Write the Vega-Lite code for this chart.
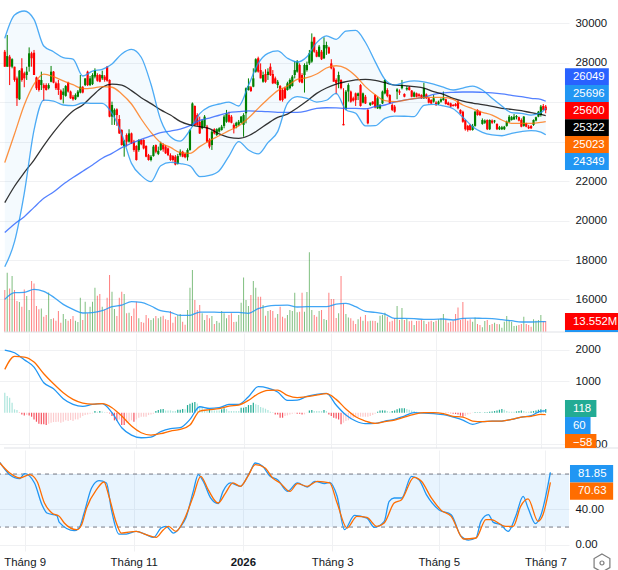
{"$schema":"https://vega.github.io/schema/vega-lite/v6.json","background":"#ffffff","padding":{"left":-3,"top":0,"right":0,"bottom":0},"spacing":-1.5,"config":{"font":"Liberation Sans","view":{"stroke":null},"axis":{"labelFontSize":11.4,"labelColor":"#131722","gridColor":"#f0f1f3","gridWidth":1,"title":null,"ticks":false,"domain":false}},
"datasets":{
"candles":[
{"i":0,"open":28560,"high":28650,"low":27800,"close":27800,"vol":51.7,"hist":635,"tone":"b"},
{"i":1,"open":27800,"high":29410,"low":27800,"close":28340,"vol":73,"hist":529,"tone":"b"},
{"i":2,"open":28310,"high":28400,"low":26870,"close":27800,"vol":53.7,"hist":476,"tone":"b"},
{"i":3,"open":27800,"high":28230,"low":27720,"close":28180,"vol":68.9,"hist":317,"tone":"b"},
{"i":4,"open":27800,"high":27800,"low":27040,"close":27130,"vol":51.7,"hist":106,"tone":"b"},
{"i":5,"open":27210,"high":27300,"low":25810,"close":26200,"vol":38.1,"hist":85,"tone":"b"},
{"i":6,"open":26150,"high":27630,"low":26110,"close":27600,"vol":36.9,"hist":-11,"tone":"c"},
{"i":7,"open":27720,"high":28230,"low":27040,"close":27130,"vol":31.2,"hist":-53,"tone":"c"},
{"i":8,"open":27470,"high":27550,"low":26760,"close":27210,"vol":52.5,"hist":-85,"tone":"c"},
{"i":9,"open":27380,"high":27800,"low":27130,"close":27550,"vol":44.3,"hist":-74,"tone":"d"},
{"i":10,"open":27800,"high":28780,"low":27550,"close":28480,"vol":27.1,"hist":-85,"tone":"c"},
{"i":11,"open":28480,"high":28560,"low":27800,"close":28230,"vol":62.7,"hist":-127,"tone":"c"},
{"i":12,"open":28510,"high":28650,"low":27380,"close":27380,"vol":59.9,"hist":-212,"tone":"c"},
{"i":13,"open":27260,"high":27300,"low":26620,"close":26710,"vol":32,"hist":-286,"tone":"c"},
{"i":14,"open":27130,"high":27160,"low":26540,"close":26620,"vol":27.9,"hist":-349,"tone":"c"},
{"i":15,"open":26870,"high":27550,"low":26620,"close":27130,"vol":29.1,"hist":-370,"tone":"c"},
{"i":16,"open":26870,"high":26960,"low":26060,"close":26710,"vol":18.9,"hist":-370,"tone":"c"},
{"i":17,"open":26870,"high":26960,"low":26590,"close":26620,"vol":20.9,"hist":-391,"tone":"c"},
{"i":18,"open":26710,"high":26960,"low":26650,"close":26870,"vol":48.8,"hist":-349,"tone":"d"},
{"i":19,"open":27040,"high":27840,"low":27010,"close":27550,"vol":16,"hist":-317,"tone":"d"},
{"i":20,"open":27550,"high":27580,"low":26960,"close":26990,"vol":16.8,"hist":-296,"tone":"d"},
{"i":21,"open":26960,"high":27040,"low":26620,"close":26710,"vol":13.9,"hist":-296,"tone":"d"},
{"i":22,"open":26960,"high":27130,"low":26370,"close":26620,"vol":25.8,"hist":-286,"tone":"d"},
{"i":23,"open":26590,"high":26650,"low":26110,"close":26150,"vol":11.5,"hist":-317,"tone":"d"},
{"i":24,"open":26370,"high":26710,"low":25940,"close":26540,"vol":22.1,"hist":-286,"tone":"d"},
{"i":25,"open":26320,"high":26870,"low":26280,"close":26820,"vol":16,"hist":-243,"tone":"d"},
{"i":26,"open":26990,"high":27040,"low":26490,"close":26540,"vol":13.9,"hist":-265,"tone":"d"},
{"i":27,"open":26540,"high":26590,"low":26170,"close":26200,"vol":16,"hist":-233,"tone":"d"},
{"i":28,"open":26280,"high":26370,"low":26080,"close":26150,"vol":19.7,"hist":-265,"tone":"d"},
{"i":29,"open":26150,"high":26450,"low":26110,"close":26370,"vol":13.9,"hist":-212,"tone":"d"},
{"i":30,"open":26280,"high":26620,"low":26250,"close":26540,"vol":12.3,"hist":-212,"tone":"d"},
{"i":31,"open":26490,"high":27380,"low":26450,"close":26790,"vol":42.2,"hist":-159,"tone":"d"},
{"i":32,"open":26760,"high":26820,"low":26450,"close":26490,"vol":14.8,"hist":-106,"tone":"d"},
{"i":33,"open":26870,"high":27210,"low":26820,"close":27210,"vol":37.3,"hist":-74,"tone":"d"},
{"i":34,"open":27550,"high":27600,"low":26820,"close":26870,"vol":23,"hist":-53,"tone":"d"},
{"i":35,"open":26870,"high":27330,"low":26820,"close":27210,"vol":31.2,"hist":-32,"tone":"d"},
{"i":36,"open":26920,"high":27470,"low":26870,"close":27380,"vol":37.3,"hist":-21,"tone":"d"},
{"i":37,"open":27300,"high":27720,"low":27210,"close":27630,"vol":54.5,"hist":53,"tone":"a"},
{"i":38,"open":27380,"high":27470,"low":27040,"close":27090,"vol":44.7,"hist":32,"tone":"b"},
{"i":39,"open":27380,"high":27430,"low":27010,"close":27040,"vol":46.7,"hist":53,"tone":"a"},
{"i":40,"open":27210,"high":27600,"low":27130,"close":27380,"vol":31.2,"hist":42,"tone":"b"},
{"i":41,"open":27300,"high":27380,"low":27040,"close":27130,"vol":27.9,"hist":11,"tone":"b"},
{"i":42,"open":27800,"high":27840,"low":27040,"close":27090,"vol":42.2,"hist":-11,"tone":"c"},
{"i":43,"open":27130,"high":27160,"low":25240,"close":25270,"vol":70.1,"hist":-21,"tone":"c"},
{"i":44,"open":25270,"high":26030,"low":24850,"close":25860,"vol":49.6,"hist":-106,"tone":"c"},
{"i":45,"open":25350,"high":25690,"low":24850,"close":25610,"vol":28.3,"hist":-243,"tone":"c"},
{"i":46,"open":25640,"high":25690,"low":24800,"close":25350,"vol":19.7,"hist":-265,"tone":"c"},
{"i":47,"open":25150,"high":25350,"low":24390,"close":24420,"vol":42.2,"hist":-212,"tone":"d"},
{"i":48,"open":24590,"high":24630,"low":23800,"close":23830,"vol":49.6,"hist":-391,"tone":"c"},
{"i":49,"open":23780,"high":24090,"low":23240,"close":24050,"vol":46.7,"hist":-391,"tone":"c"},
{"i":50,"open":24340,"high":24420,"low":23750,"close":24000,"vol":23,"hist":-317,"tone":"d"},
{"i":51,"open":24000,"high":24630,"low":23950,"close":24420,"vol":23.8,"hist":-286,"tone":"d"},
{"i":52,"open":24420,"high":24460,"low":23880,"close":23920,"vol":19.7,"hist":-243,"tone":"d"},
{"i":53,"open":24000,"high":24090,"low":23490,"close":23580,"vol":29.1,"hist":-286,"tone":"c"},
{"i":54,"open":23780,"high":23820,"low":23040,"close":23070,"vol":37.3,"hist":-212,"tone":"d"},
{"i":55,"open":23580,"high":24120,"low":23490,"close":24090,"vol":16.8,"hist":-159,"tone":"d"},
{"i":56,"open":24090,"high":24120,"low":23820,"close":23870,"vol":12.3,"hist":-127,"tone":"d"},
{"i":57,"open":24090,"high":24120,"low":23610,"close":23660,"vol":11.5,"hist":-127,"tone":"d"},
{"i":58,"open":23780,"high":23820,"low":23210,"close":23240,"vol":20.9,"hist":-127,"tone":"d"},
{"i":59,"open":23320,"high":23380,"low":23040,"close":23070,"vol":16.8,"hist":-74,"tone":"d"},
{"i":60,"open":23070,"high":23320,"low":23000,"close":23240,"vol":14.8,"hist":-53,"tone":"d"},
{"i":61,"open":23270,"high":23830,"low":23240,"close":23750,"vol":16.8,"hist":-32,"tone":"d"},
{"i":62,"open":23830,"high":23860,"low":23410,"close":23490,"vol":19.7,"hist":53,"tone":"a"},
{"i":63,"open":23380,"high":23750,"low":23320,"close":23540,"vol":16.8,"hist":85,"tone":"a"},
{"i":64,"open":23580,"high":24000,"low":23540,"close":23920,"vol":18.9,"hist":106,"tone":"a"},
{"i":65,"open":23830,"high":23920,"low":23490,"close":23610,"vol":20.1,"hist":116,"tone":"a"},
{"i":66,"open":23750,"high":23830,"low":23380,"close":23410,"vol":15.6,"hist":74,"tone":"b"},
{"i":67,"open":23660,"high":23710,"low":23270,"close":23320,"vol":14.8,"hist":74,"tone":"b"},
{"i":68,"open":23320,"high":23410,"low":23030,"close":23070,"vol":25.8,"hist":74,"tone":"b"},
{"i":69,"open":23270,"high":23320,"low":22990,"close":23070,"vol":11.5,"hist":53,"tone":"b"},
{"i":70,"open":23240,"high":23320,"low":22800,"close":22840,"vol":18.9,"hist":53,"tone":"b"},
{"i":71,"open":22870,"high":23380,"low":22840,"close":23270,"vol":20.9,"hist":95,"tone":"a"},
{"i":72,"open":23320,"high":23610,"low":23240,"close":23490,"vol":22.1,"hist":95,"tone":"a"},
{"i":73,"open":23490,"high":23540,"low":23210,"close":23240,"vol":12.7,"hist":116,"tone":"a"},
{"i":74,"open":23380,"high":23440,"low":23160,"close":23210,"vol":9,"hist":106,"tone":"b"},
{"i":75,"open":23210,"high":23660,"low":23040,"close":23580,"vol":27.1,"hist":243,"tone":"a"},
{"i":76,"open":23580,"high":24630,"low":23540,"close":24590,"vol":54.5,"hist":286,"tone":"a"},
{"i":77,"open":24800,"high":25990,"low":24760,"close":25940,"vol":76.3,"hist":317,"tone":"a"},
{"i":78,"open":25810,"high":25840,"low":24800,"close":24850,"vol":39.4,"hist":339,"tone":"a"},
{"i":79,"open":25350,"high":25440,"low":24800,"close":24850,"vol":27.1,"hist":296,"tone":"b"},
{"i":80,"open":25010,"high":25270,"low":24390,"close":24420,"vol":33.2,"hist":212,"tone":"b"},
{"i":81,"open":24680,"high":25130,"low":24630,"close":25070,"vol":23,"hist":159,"tone":"b"},
{"i":82,"open":24760,"high":25350,"low":24730,"close":25270,"vol":14.8,"hist":95,"tone":"b"},
{"i":83,"open":24760,"high":24850,"low":23950,"close":24000,"vol":20.9,"hist":74,"tone":"b"},
{"i":84,"open":24090,"high":24170,"low":23660,"close":23750,"vol":16.8,"hist":116,"tone":"a"},
{"i":85,"open":23830,"high":24590,"low":23580,"close":24510,"vol":19.7,"hist":74,"tone":"b"},
{"i":86,"open":24630,"high":24680,"low":24370,"close":24420,"vol":9.8,"hist":74,"tone":"b"},
{"i":87,"open":24340,"high":24680,"low":24290,"close":24630,"vol":13.5,"hist":74,"tone":"b"},
{"i":88,"open":24510,"high":24730,"low":24460,"close":24680,"vol":11.5,"hist":74,"tone":"b"},
{"i":89,"open":24590,"high":24850,"low":24560,"close":24760,"vol":25.8,"hist":106,"tone":"a"},
{"i":90,"open":24800,"high":25350,"low":24680,"close":25270,"vol":23,"hist":138,"tone":"a"},
{"i":91,"open":25010,"high":25610,"low":24960,"close":25440,"vol":16.8,"hist":116,"tone":"b"},
{"i":92,"open":25350,"high":25520,"low":24960,"close":25010,"vol":20.9,"hist":53,"tone":"b"},
{"i":93,"open":25270,"high":25350,"low":24930,"close":24960,"vol":23,"hist":53,"tone":"b"},
{"i":94,"open":24850,"high":24930,"low":24420,"close":24680,"vol":12.3,"hist":53,"tone":"b"},
{"i":95,"open":24800,"high":25010,"low":24680,"close":24960,"vol":12.7,"hist":53,"tone":"b"},
{"i":96,"open":24850,"high":25100,"low":24800,"close":25010,"vol":20.9,"hist":53,"tone":"b"},
{"i":97,"open":24960,"high":25300,"low":24930,"close":25270,"vol":36.1,"hist":159,"tone":"a"},
{"i":98,"open":24850,"high":25440,"low":24250,"close":25350,"vol":67.2,"hist":159,"tone":"a"},
{"i":99,"open":25440,"high":26750,"low":24930,"close":26710,"vol":39.4,"hist":180,"tone":"a"},
{"i":100,"open":26620,"high":27210,"low":26590,"close":26820,"vol":32,"hist":243,"tone":"a"},
{"i":101,"open":26760,"high":26820,"low":26520,"close":26570,"vol":45.5,"hist":243,"tone":"a"},
{"i":102,"open":26790,"high":27720,"low":26760,"close":27210,"vol":62.7,"hist":317,"tone":"a"},
{"i":103,"open":27550,"high":28230,"low":27500,"close":28180,"vol":54.5,"hist":265,"tone":"b"},
{"i":104,"open":28230,"high":28310,"low":27500,"close":27550,"vol":43.5,"hist":243,"tone":"b"},
{"i":105,"open":27630,"high":27970,"low":27210,"close":27210,"vol":43.5,"hist":180,"tone":"b"},
{"i":106,"open":27040,"high":27550,"low":26990,"close":27380,"vol":33.2,"hist":159,"tone":"b"},
{"i":107,"open":27430,"high":27670,"low":26990,"close":27040,"vol":20.1,"hist":127,"tone":"b"},
{"i":108,"open":27380,"high":27720,"low":27130,"close":27550,"vol":25.8,"hist":85,"tone":"b"},
{"i":109,"open":27800,"high":27970,"low":27330,"close":27380,"vol":27.1,"hist":32,"tone":"b"},
{"i":110,"open":27430,"high":27630,"low":26920,"close":26960,"vol":25.8,"hist":11,"tone":"b"},
{"i":111,"open":27210,"high":27300,"low":26920,"close":26960,"vol":17.6,"hist":-53,"tone":"c"},
{"i":112,"open":26870,"high":27130,"low":26710,"close":27040,"vol":22.1,"hist":-53,"tone":"c"},
{"i":113,"open":26820,"high":26870,"low":26060,"close":26110,"vol":31.2,"hist":-159,"tone":"c"},
{"i":114,"open":26620,"high":26710,"low":26030,"close":26110,"vol":18.9,"hist":-159,"tone":"c"},
{"i":115,"open":26710,"high":26790,"low":26170,"close":26200,"vol":16.8,"hist":-106,"tone":"d"},
{"i":116,"open":26620,"high":27040,"low":26590,"close":26960,"vol":20.9,"hist":-85,"tone":"d"},
{"i":117,"open":26710,"high":27210,"low":26650,"close":27130,"vol":27.1,"hist":-53,"tone":"d"},
{"i":118,"open":26820,"high":27380,"low":26790,"close":27300,"vol":25.8,"hist":-32,"tone":"d"},
{"i":119,"open":27380,"high":28090,"low":27210,"close":27630,"vol":48.4,"hist":-21,"tone":"d"},
{"i":120,"open":27550,"high":28140,"low":27500,"close":28060,"vol":24.2,"hist":-32,"tone":"c"},
{"i":121,"open":27890,"high":27970,"low":26990,"close":27040,"vol":25,"hist":-32,"tone":"c"},
{"i":122,"open":27380,"high":27470,"low":26960,"close":26990,"vol":48.4,"hist":-53,"tone":"c"},
{"i":123,"open":27380,"high":27970,"low":26490,"close":27890,"vol":25,"hist":-53,"tone":"d"},
{"i":124,"open":27630,"high":28060,"low":27550,"close":27890,"vol":49.2,"hist":-11,"tone":"d"},
{"i":125,"open":27970,"high":28650,"low":27890,"close":28480,"vol":98.4,"hist":74,"tone":"a"},
{"i":126,"open":28060,"high":29490,"low":28000,"close":29070,"vol":27.1,"hist":85,"tone":"a"},
{"i":127,"open":29290,"high":29320,"low":28510,"close":28560,"vol":20.9,"hist":53,"tone":"b"},
{"i":128,"open":28560,"high":28650,"low":28280,"close":28310,"vol":18.9,"hist":53,"tone":"b"},
{"i":129,"open":28310,"high":28900,"low":28280,"close":28820,"vol":25.8,"hist":53,"tone":"b"},
{"i":130,"open":28560,"high":28650,"low":28140,"close":28180,"vol":27.1,"hist":53,"tone":"b"},
{"i":131,"open":28230,"high":29290,"low":28190,"close":28900,"vol":16,"hist":85,"tone":"a"},
{"i":132,"open":28730,"high":29070,"low":28400,"close":28900,"vol":14.8,"hist":53,"tone":"b"},
{"i":133,"open":28780,"high":28820,"low":28450,"close":28480,"vol":48.4,"hist":-53,"tone":"c"},
{"i":134,"open":27970,"high":28180,"low":27670,"close":27720,"vol":40.6,"hist":-106,"tone":"c"},
{"i":135,"open":27720,"high":27800,"low":27040,"close":27040,"vol":40.6,"hist":-159,"tone":"c"},
{"i":136,"open":27130,"high":27210,"low":26400,"close":26960,"vol":17.2,"hist":-180,"tone":"c"},
{"i":137,"open":27040,"high":27550,"low":26710,"close":27380,"vol":23,"hist":-212,"tone":"c"},
{"i":138,"open":27130,"high":27160,"low":26650,"close":26710,"vol":68.9,"hist":-370,"tone":"c"},
{"i":139,"open":24900,"high":26710,"low":24830,"close":24830,"vol":35.3,"hist":-317,"tone":"d"},
{"i":140,"open":25640,"high":26620,"low":25610,"close":26540,"vol":22.1,"hist":-265,"tone":"d"},
{"i":141,"open":26540,"high":26960,"low":26030,"close":26870,"vol":18,"hist":-243,"tone":"d"},
{"i":142,"open":26540,"high":26590,"low":25980,"close":26030,"vol":16.8,"hist":-190,"tone":"d"},
{"i":143,"open":26200,"high":26280,"low":26030,"close":26080,"vol":13.9,"hist":-159,"tone":"d"},
{"i":144,"open":26450,"high":26490,"low":25810,"close":26110,"vol":9.8,"hist":-138,"tone":"d"},
{"i":145,"open":26320,"high":26490,"low":26110,"close":26450,"vol":15.6,"hist":-138,"tone":"d"},
{"i":146,"open":26870,"high":26920,"low":25780,"close":25810,"vol":18.9,"hist":-127,"tone":"d"},
{"i":147,"open":25980,"high":26490,"low":25940,"close":26450,"vol":13.9,"hist":-127,"tone":"d"},
{"i":148,"open":26280,"high":26370,"low":25910,"close":25940,"vol":20.9,"hist":-127,"tone":"d"},
{"i":149,"open":25610,"high":25690,"low":24880,"close":24930,"vol":13.1,"hist":-127,"tone":"d"},
{"i":150,"open":25860,"high":25980,"low":25810,"close":25980,"vol":13.9,"hist":-106,"tone":"d"},
{"i":151,"open":26030,"high":26060,"low":25860,"close":25910,"vol":13.9,"hist":-74,"tone":"d"},
{"i":152,"open":26370,"high":26400,"low":25690,"close":25740,"vol":13.5,"hist":-32,"tone":"d"},
{"i":153,"open":25690,"high":26280,"low":25660,"close":26200,"vol":11.5,"hist":32,"tone":"a"},
{"i":154,"open":25690,"high":25910,"low":25640,"close":25860,"vol":20.1,"hist":74,"tone":"a"},
{"i":155,"open":25940,"high":26590,"low":25910,"close":26540,"vol":20.9,"hist":74,"tone":"a"},
{"i":156,"open":26450,"high":27160,"low":26400,"close":27130,"vol":23.8,"hist":74,"tone":"a"},
{"i":157,"open":26620,"high":26710,"low":26250,"close":26320,"vol":18.9,"hist":53,"tone":"b"},
{"i":158,"open":26370,"high":26400,"low":25910,"close":25940,"vol":12.7,"hist":32,"tone":"b"},
{"i":159,"open":25860,"high":25940,"low":25550,"close":25610,"vol":13.9,"hist":53,"tone":"a"},
{"i":160,"open":25780,"high":25860,"low":25470,"close":25520,"vol":16.8,"hist":74,"tone":"a"},
{"i":161,"open":26540,"high":26710,"low":26150,"close":26650,"vol":32,"hist":106,"tone":"a"},
{"i":162,"open":26550,"high":26650,"low":26370,"close":26490,"vol":14.8,"hist":138,"tone":"a"},
{"i":163,"open":26710,"high":27130,"low":26650,"close":26870,"vol":29.5,"hist":138,"tone":"a"},
{"i":164,"open":26420,"high":26450,"low":26250,"close":26280,"vol":14.8,"hist":138,"tone":"a"},
{"i":165,"open":26650,"high":26820,"low":26590,"close":26720,"vol":16,"hist":116,"tone":"b"},
{"i":166,"open":26760,"high":26820,"low":26590,"close":26620,"vol":13.1,"hist":95,"tone":"b"},
{"i":167,"open":26590,"high":26620,"low":26250,"close":26280,"vol":13.9,"hist":74,"tone":"b"},
{"i":168,"open":26280,"high":26540,"low":26250,"close":26490,"vol":8.6,"hist":53,"tone":"b"},
{"i":169,"open":26450,"high":26490,"low":26250,"close":26280,"vol":13.5,"hist":32,"tone":"b"},
{"i":170,"open":26400,"high":26450,"low":26250,"close":26320,"vol":13.9,"hist":21,"tone":"b"},
{"i":171,"open":26370,"high":26400,"low":26170,"close":26200,"vol":14.8,"hist":11,"tone":"b"},
{"i":172,"open":26200,"high":26990,"low":26170,"close":26710,"vol":13.9,"hist":11,"tone":"b"},
{"i":173,"open":26400,"high":26450,"low":26170,"close":26200,"vol":9.8,"hist":5,"tone":"b"},
{"i":174,"open":26200,"high":26250,"low":25940,"close":25980,"vol":12.7,"hist":-11,"tone":"c"},
{"i":175,"open":26110,"high":26150,"low":25910,"close":25940,"vol":13.9,"hist":-21,"tone":"c"},
{"i":176,"open":26030,"high":26370,"low":25980,"close":26200,"vol":12.3,"hist":-21,"tone":"c"},
{"i":177,"open":25980,"high":26050,"low":25810,"close":25910,"vol":13.9,"hist":-11,"tone":"d"},
{"i":178,"open":25910,"high":26080,"low":25860,"close":26030,"vol":15.6,"hist":-11,"tone":"d"},
{"i":179,"open":26030,"high":26200,"low":25980,"close":26150,"vol":16.8,"hist":5,"tone":"b"},
{"i":180,"open":26110,"high":26540,"low":26080,"close":26200,"vol":22.1,"hist":5,"tone":"b"},
{"i":181,"open":26150,"high":26180,"low":25880,"close":25910,"vol":14.8,"hist":-11,"tone":"c"},
{"i":182,"open":25980,"high":26030,"low":25840,"close":25860,"vol":11.5,"hist":-11,"tone":"c"},
{"i":183,"open":25940,"high":25980,"low":25740,"close":25780,"vol":12.7,"hist":-21,"tone":"c"},
{"i":184,"open":25860,"high":25910,"low":25780,"close":25810,"vol":13.9,"hist":-32,"tone":"c"},
{"i":185,"open":25910,"high":25960,"low":25780,"close":25810,"vol":22.1,"hist":-42,"tone":"c"},
{"i":186,"open":26030,"high":26110,"low":25640,"close":25690,"vol":30.3,"hist":-53,"tone":"c"},
{"i":187,"open":25610,"high":25640,"low":25400,"close":25440,"vol":14.8,"hist":-95,"tone":"c"},
{"i":188,"open":25520,"high":25570,"low":24960,"close":25010,"vol":36.9,"hist":-127,"tone":"c"},
{"i":189,"open":25100,"high":25130,"low":24560,"close":24630,"vol":17.2,"hist":-106,"tone":"d"},
{"i":190,"open":24800,"high":24850,"low":24510,"close":24590,"vol":13.9,"hist":-53,"tone":"d"},
{"i":191,"open":24850,"high":24900,"low":24560,"close":24590,"vol":15.6,"hist":-32,"tone":"d"},
{"i":192,"open":24590,"high":24900,"low":24560,"close":24800,"vol":12.7,"hist":-11,"tone":"d"},
{"i":193,"open":24800,"high":25570,"low":24760,"close":25520,"vol":18,"hist":11,"tone":"a"},
{"i":194,"open":25610,"high":25640,"low":25320,"close":25350,"vol":9.8,"hist":11,"tone":"a"},
{"i":195,"open":25520,"high":25570,"low":25300,"close":25350,"vol":8.6,"hist":11,"tone":"a"},
{"i":196,"open":24900,"high":25180,"low":24860,"close":25100,"vol":5.7,"hist":5,"tone":"b"},
{"i":197,"open":24960,"high":25130,"low":24900,"close":25070,"vol":13.5,"hist":11,"tone":"a"},
{"i":198,"open":25100,"high":25130,"low":24590,"close":24630,"vol":14.8,"hist":11,"tone":"a"},
{"i":199,"open":24630,"high":25130,"low":24590,"close":25100,"vol":8.6,"hist":32,"tone":"a"},
{"i":200,"open":25070,"high":25130,"low":24900,"close":24960,"vol":9.8,"hist":42,"tone":"a"},
{"i":201,"open":25020,"high":25100,"low":24930,"close":25070,"vol":11.5,"hist":53,"tone":"a"},
{"i":202,"open":24900,"high":24930,"low":24590,"close":24630,"vol":9.8,"hist":74,"tone":"a"},
{"i":203,"open":24630,"high":24800,"low":24590,"close":24730,"vol":9.4,"hist":95,"tone":"a"},
{"i":204,"open":24630,"high":24800,"low":24590,"close":24730,"vol":5.3,"hist":116,"tone":"a"},
{"i":205,"open":24630,"high":24800,"low":24590,"close":24760,"vol":12.7,"hist":95,"tone":"b"},
{"i":206,"open":24800,"high":25070,"low":24760,"close":25010,"vol":19.7,"hist":53,"tone":"b"},
{"i":207,"open":25010,"high":25350,"low":24960,"close":25270,"vol":14.8,"hist":32,"tone":"b"},
{"i":208,"open":25100,"high":25300,"low":25070,"close":25240,"vol":12.7,"hist":32,"tone":"b"},
{"i":209,"open":25130,"high":25400,"low":25100,"close":25270,"vol":7.4,"hist":32,"tone":"b"},
{"i":210,"open":25240,"high":25350,"low":25130,"close":25300,"vol":7.8,"hist":42,"tone":"a"},
{"i":211,"open":25240,"high":25270,"low":25030,"close":25070,"vol":8.6,"hist":53,"tone":"a"},
{"i":212,"open":25100,"high":25180,"low":24730,"close":24760,"vol":9.8,"hist":74,"tone":"a"},
{"i":213,"open":24800,"high":25300,"low":24760,"close":25270,"vol":18.9,"hist":53,"tone":"b"},
{"i":214,"open":24930,"high":24960,"low":24730,"close":24760,"vol":9.8,"hist":32,"tone":"b"},
{"i":215,"open":24760,"high":24850,"low":24640,"close":24680,"vol":8.6,"hist":32,"tone":"b"},
{"i":216,"open":24790,"high":24850,"low":24640,"close":24680,"vol":6.6,"hist":42,"tone":"a"},
{"i":217,"open":24850,"high":25130,"low":24800,"close":25100,"vol":15.6,"hist":53,"tone":"a"},
{"i":218,"open":25070,"high":25270,"low":25030,"close":25240,"vol":13.9,"hist":74,"tone":"a"},
{"i":219,"open":25270,"high":25560,"low":25240,"close":25520,"vol":14.8,"hist":95,"tone":"a"},
{"i":220,"open":25350,"high":25860,"low":25270,"close":25780,"vol":20.9,"hist":106,"tone":"a"},
{"i":221,"open":25810,"high":25910,"low":25570,"close":25610,"vol":13.1,"hist":95,"tone":"b"},
{"i":222,"open":25780,"high":25860,"low":25440,"close":25600,"vol":13.5,"hist":118,"tone":"a"}
],
"lines":[
{"i":0,"bbUp":29240,"bbLow":17660,"mid":22940,"ma":20910,"slow":19400,"volMa":40.2,"macd":1989,"signal":1375},
{"i":4,"bbUp":30420,"bbLow":18930,"mid":24390,"ma":21740,"slow":19830,"volMa":48.4,"macd":1904,"signal":1788},
{"i":8,"bbUp":30625,"bbLow":21380,"mid":25860,"ma":22430,"slow":20200,"volMa":48.8,"macd":1682,"signal":1767},
{"i":12,"bbUp":30200,"bbLow":24590,"mid":26920,"ma":23070,"slow":20670,"volMa":52.5,"macd":1449,"signal":1608},
{"i":16,"bbUp":28850,"bbLow":26110,"mid":27430,"ma":23800,"slow":21130,"volMa":50,"macd":952,"signal":1238},
{"i":20,"bbUp":28560,"bbLow":26060,"mid":27300,"ma":24470,"slow":21450,"volMa":43,"macd":762,"signal":920},
{"i":24,"bbUp":28260,"bbLow":25860,"mid":27080,"ma":25070,"slow":21840,"volMa":34,"macd":444,"signal":635},
{"i":28,"bbUp":28190,"bbLow":25830,"mid":26890,"ma":25555,"slow":22180,"volMa":27.9,"macd":265,"signal":423},
{"i":32,"bbUp":27330,"bbLow":25960,"mid":26690,"ma":25860,"slow":22500,"volMa":23.4,"macd":201,"signal":307},
{"i":36,"bbUp":27580,"bbLow":25940,"mid":26720,"ma":26330,"slow":22820,"volMa":23.8,"macd":265,"signal":275},
{"i":40,"bbUp":27670,"bbLow":25940,"mid":26790,"ma":26760,"slow":23160,"volMa":26.2,"macd":286,"signal":286},
{"i":44,"bbUp":27940,"bbLow":25440,"mid":26760,"ma":26920,"slow":23410,"volMa":31.2,"macd":0,"signal":159},
{"i":48,"bbUp":28450,"bbLow":24390,"mid":26420,"ma":26870,"slow":23700,"volMa":33.2,"macd":-476,"signal":-106},
{"i":52,"bbUp":28680,"bbLow":22900,"mid":25910,"ma":26590,"slow":23920,"volMa":37.3,"macd":-709,"signal":-423},
{"i":56,"bbUp":28280,"bbLow":22280,"mid":25150,"ma":26230,"slow":24120,"volMa":36.5,"macd":-794,"signal":-635},
{"i":60,"bbUp":26910,"bbLow":21970,"mid":24470,"ma":25930,"slow":24290,"volMa":32,"macd":-772,"signal":-709},
{"i":64,"bbUp":25100,"bbLow":22780,"mid":23950,"ma":25610,"slow":24460,"volMa":26.2,"macd":-603,"signal":-667},
{"i":68,"bbUp":24250,"bbLow":22950,"mid":23710,"ma":25350,"slow":24540,"volMa":24.2,"macd":-508,"signal":-582},
{"i":72,"bbUp":24030,"bbLow":22890,"mid":23440,"ma":25030,"slow":24640,"volMa":20.5,"macd":-476,"signal":-529},
{"i":76,"bbUp":24590,"bbLow":22770,"mid":23410,"ma":24850,"slow":24810,"volMa":20.5,"macd":-212,"signal":-391},
{"i":80,"bbUp":25420,"bbLow":22230,"mid":23750,"ma":24760,"slow":25080,"volMa":24.6,"macd":190,"signal":53},
{"i":84,"bbUp":25780,"bbLow":22290,"mid":24050,"ma":24660,"slow":25200,"volMa":24.6,"macd":138,"signal":95},
{"i":88,"bbUp":25910,"bbLow":22530,"mid":24300,"ma":24400,"slow":25340,"volMa":24.2,"macd":159,"signal":127},
{"i":92,"bbUp":26010,"bbLow":23270,"mid":24560,"ma":24220,"slow":25470,"volMa":24.2,"macd":265,"signal":212},
{"i":96,"bbUp":25810,"bbLow":24000,"mid":24800,"ma":24170,"slow":25520,"volMa":24.2,"macd":265,"signal":243},
{"i":100,"bbUp":26860,"bbLow":23580,"mid":25200,"ma":24300,"slow":25560,"volMa":23,"macd":508,"signal":391},
{"i":104,"bbUp":27970,"bbLow":23380,"mid":25690,"ma":24590,"slow":25540,"volMa":28.7,"macd":825,"signal":603},
{"i":108,"bbUp":28480,"bbLow":23950,"mid":26160,"ma":24930,"slow":25520,"volMa":32,"macd":783,"signal":709},
{"i":112,"bbUp":28600,"bbLow":24510,"mid":26590,"ma":25230,"slow":25490,"volMa":32.8,"macd":656,"signal":719},
{"i":116,"bbUp":28230,"bbLow":25940,"mid":26820,"ma":25400,"slow":25490,"volMa":33.2,"macd":391,"signal":550},
{"i":120,"bbUp":28040,"bbLow":26280,"mid":27160,"ma":25710,"slow":25490,"volMa":30.8,"macd":402,"signal":476},
{"i":124,"bbUp":28310,"bbLow":26200,"mid":27245,"ma":26060,"slow":25560,"volMa":31.2,"macd":518,"signal":508},
{"i":128,"bbUp":29020,"bbLow":26010,"mid":27430,"ma":26450,"slow":25690,"volMa":31.2,"macd":582,"signal":561},
{"i":132,"bbUp":29360,"bbLow":26100,"mid":27735,"ma":26720,"slow":25720,"volMa":31.2,"macd":614,"signal":603},
{"i":136,"bbUp":29190,"bbLow":26450,"mid":27850,"ma":26920,"slow":25710,"volMa":34.4,"macd":243,"signal":423},
{"i":140,"bbUp":29610,"bbLow":25610,"mid":27720,"ma":27040,"slow":25690,"volMa":35.3,"macd":-74,"signal":116},
{"i":144,"bbUp":29645,"bbLow":25440,"mid":27330,"ma":27130,"slow":25690,"volMa":31.2,"macd":-264,"signal":-127},
{"i":148,"bbUp":29040,"bbLow":24800,"mid":26790,"ma":27160,"slow":25670,"volMa":25.4,"macd":-349,"signal":-264},
{"i":152,"bbUp":28060,"bbLow":24810,"mid":26380,"ma":27110,"slow":25780,"volMa":24.2,"macd":-339,"signal":-339},
{"i":156,"bbUp":27160,"bbLow":25180,"mid":26080,"ma":26990,"slow":25860,"volMa":22.1,"macd":-264,"signal":-286},
{"i":160,"bbUp":26870,"bbLow":25300,"mid":26030,"ma":26870,"slow":26010,"volMa":16.8,"macd":-212,"signal":-233},
{"i":164,"bbUp":27010,"bbLow":25290,"mid":26100,"ma":26840,"slow":26110,"volMa":16.8,"macd":-106,"signal":-138},
{"i":168,"bbUp":27080,"bbLow":25270,"mid":26180,"ma":26790,"slow":26180,"volMa":16.4,"macd":0,"signal":-53},
{"i":172,"bbUp":27030,"bbLow":25840,"mid":26250,"ma":26720,"slow":26250,"volMa":15.6,"macd":-11,"signal":0},
{"i":176,"bbUp":26920,"bbLow":25890,"mid":26250,"ma":26540,"slow":26400,"volMa":15.6,"macd":-32,"signal":0},
{"i":180,"bbUp":26760,"bbLow":25810,"mid":26250,"ma":26400,"slow":26470,"volMa":16,"macd":-63,"signal":-32},
{"i":184,"bbUp":26620,"bbLow":25670,"mid":26150,"ma":26200,"slow":26500,"volMa":14.8,"macd":-138,"signal":-116},
{"i":188,"bbUp":26720,"bbLow":25240,"mid":25860,"ma":26060,"slow":26520,"volMa":16.8,"macd":-233,"signal":-138},
{"i":192,"bbUp":26820,"bbLow":24760,"mid":25670,"ma":25960,"slow":26520,"volMa":17.2,"macd":-370,"signal":-264},
{"i":196,"bbUp":26620,"bbLow":24470,"mid":25490,"ma":25880,"slow":26500,"volMa":16.8,"macd":-286,"signal":-286},
{"i":200,"bbUp":26200,"bbLow":24340,"mid":25350,"ma":25790,"slow":26470,"volMa":16.4,"macd":-264,"signal":-264},
{"i":204,"bbUp":25810,"bbLow":24300,"mid":25100,"ma":25690,"slow":26420,"volMa":15.2,"macd":-264,"signal":-264},
{"i":208,"bbUp":25470,"bbLow":24420,"mid":24930,"ma":25640,"slow":26350,"volMa":13.9,"macd":-212,"signal":-212},
{"i":212,"bbUp":25440,"bbLow":24510,"mid":24930,"ma":25570,"slow":26280,"volMa":12.3,"macd":-138,"signal":-138},
{"i":216,"bbUp":25350,"bbLow":24560,"mid":24930,"ma":25470,"slow":26200,"volMa":12.3,"macd":-95,"signal":-116},
{"i":220,"bbUp":25470,"bbLow":24490,"mid":24980,"ma":25390,"slow":26150,"volMa":12.7,"macd":53,"signal":-53},
{"i":222,"bbUp":25696,"bbLow":24349,"mid":25023,"ma":25322,"slow":26049,"volMa":12.7,"macd":60,"signal":-58}
],
"stochK":[{"i":0,"v":93.3},{"i":4,"v":79.3},{"i":8,"v":74.8},{"i":10,"v":80.4},{"i":14,"v":69.9},{"i":17,"v":45.3},{"i":19,"v":35.9},{"i":23,"v":32.9},{"i":24,"v":25.3},{"i":30,"v":15.9},{"i":32,"v":18.9},{"i":34,"v":35.9},{"i":37,"v":64.2},{"i":40,"v":72.5},{"i":43,"v":69.9},{"i":45,"v":39.7},{"i":48,"v":12.1},{"i":51,"v":12.1},{"i":55,"v":15.1},{"i":59,"v":11.4},{"i":62,"v":8.3},{"i":65,"v":18.9},{"i":67,"v":20.8},{"i":70,"v":13.2},{"i":73,"v":20.8},{"i":75,"v":30.2},{"i":78,"v":60.4},{"i":80,"v":79.3},{"i":82,"v":71.8},{"i":85,"v":52.9},{"i":88,"v":46.5},{"i":90,"v":60.4},{"i":93,"v":69.9},{"i":97,"v":66.1},{"i":101,"v":83.1},{"i":103,"v":92.5},{"i":106,"v":88.7},{"i":109,"v":77.4},{"i":112,"v":73.6},{"i":116,"v":60.4},{"i":120,"v":69.9},{"i":124,"v":65.3},{"i":127,"v":71.8},{"i":131,"v":69.1},{"i":133,"v":70.6},{"i":136,"v":54.8},{"i":139,"v":17},{"i":143,"v":33.3},{"i":148,"v":30.2},{"i":151,"v":19.7},{"i":155,"v":26.5},{"i":157,"v":49.1},{"i":159,"v":52.9},{"i":162,"v":52.9},{"i":166,"v":77.4},{"i":169,"v":73.6},{"i":172,"v":56.7},{"i":177,"v":39.7},{"i":182,"v":34},{"i":186,"v":9.5},{"i":189,"v":5.3},{"i":192,"v":7.6},{"i":194,"v":26.5},{"i":197,"v":34},{"i":199,"v":25.3},{"i":202,"v":22.7},{"i":205,"v":15.1},{"i":208,"v":32.1},{"i":211,"v":54.8},{"i":213,"v":41.6},{"i":216,"v":23.8},{"i":218,"v":32.1},{"i":222,"v":81.85}],
"stochD":[{"i":0,"v":92.5},{"i":4,"v":81.2},{"i":8,"v":75.5},{"i":12,"v":79.3},{"i":15,"v":71.8},{"i":18,"v":47.2},{"i":21,"v":35.9},{"i":24,"v":32.1},{"i":26,"v":24.6},{"i":31,"v":17},{"i":33,"v":22.7},{"i":35,"v":41.6},{"i":39,"v":62.3},{"i":42,"v":71},{"i":44,"v":54.8},{"i":47,"v":24.6},{"i":49,"v":13.2},{"i":55,"v":15.1},{"i":59,"v":11.4},{"i":63,"v":8.3},{"i":66,"v":17},{"i":68,"v":20.8},{"i":71,"v":15.1},{"i":74,"v":26.5},{"i":78,"v":54.8},{"i":81,"v":77.4},{"i":84,"v":62.3},{"i":88,"v":47.2},{"i":91,"v":58.5},{"i":94,"v":69.9},{"i":97,"v":66.1},{"i":100,"v":77.4},{"i":103,"v":90.6},{"i":107,"v":86.9},{"i":110,"v":75.5},{"i":113,"v":69.9},{"i":117,"v":60.4},{"i":120,"v":69.1},{"i":124,"v":66.1},{"i":128,"v":71.8},{"i":133,"v":69.9},{"i":136,"v":47.2},{"i":140,"v":18.9},{"i":144,"v":32.1},{"i":148,"v":31},{"i":152,"v":20.8},{"i":155,"v":24.6},{"i":159,"v":47.2},{"i":162,"v":51},{"i":167,"v":76.3},{"i":170,"v":71.8},{"i":174,"v":52.9},{"i":178,"v":38.9},{"i":182,"v":32.1},{"i":187,"v":6.5},{"i":192,"v":7.6},{"i":196,"v":28.4},{"i":198,"v":28.4},{"i":204,"v":20.8},{"i":207,"v":20.8},{"i":210,"v":43.4},{"i":213,"v":51.8},{"i":217,"v":26.5},{"i":219,"v":34},{"i":222,"v":70.63}],
"priceTags":[
{"label":"26049","x0":229.9,"x1":247.9,"top":27720,"bottom":26873,"mid":27295,"fill":"#2962ff"},
{"label":"25696","x0":229.9,"x1":247.9,"top":26873,"bottom":26012,"mid":26440,"fill":"#2196f3"},
{"label":"25600","x0":229.9,"x1":247.9,"top":26012,"bottom":25135,"mid":25570,"fill":"#ff0000"},
{"label":"25322","x0":229.9,"x1":247.9,"top":25135,"bottom":24288,"mid":24710,"fill":"#000000"},
{"label":"25023","x0":229.9,"x1":247.9,"top":24288,"bottom":23426,"mid":23855,"fill":"#ff6d00"},
{"label":"24349","x0":229.9,"x1":247.9,"top":23426,"bottom":22564,"mid":22995,"fill":"#2196f3"},
{"label":"13.552M","x0":229.9,"x1":252,"top":15314,"bottom":14452,"mid":14883,"fill":"#ff0000"}
],
"volStrip":[{"x0":229.9,"x1":252,"top":14452,"bottom":14351}],
"macdTags":[
{"label":"118","x0":229.9,"x1":242.8,"top":403,"bottom":-137,"mid":133,"fill":"#22ab94"},
{"label":"60","x0":229.9,"x1":240.4,"top":-137,"bottom":-676,"mid":-407,"fill":"#2196f3"},
{"label":"−58","x0":229.9,"x1":242.8,"top":-676,"bottom":-1120,"mid":-946,"fill":"#ff6d00"}
],
"stochTags":[
{"label":"81.85","x0":229.9,"x1":247.3,"top":90.2,"bottom":70.4,"mid":80,"fill":"#2196f3"},
{"label":"70.63","x0":229.9,"x1":247.3,"top":70.4,"bottom":51,"mid":60.8,"fill":"#ff6d00"}
],
"seps":[{"x0":-0.32,"x1":252,"price":14351,"macdLow":-1120}],
"band":[{"lo":20,"hi":80}],
"icon":[{"i":242.8,"v":-20.7}]
},
"vconcat":[
{"width":570,"height":332,
"layer":[
{"data":{"name":"lines"},"mark":{"type":"area","interpolate":"monotone","color":"#2196f3","opacity":0.05},
 "encoding":{"x":{"field":"i","type":"quantitative","scale":{"domain":[-0.32,229.5],"nice":false,"zero":false},"axis":{"values":[10,54,98,134,177,220],"labels":false,"grid":true}},
 "y":{"field":"bbUp","type":"quantitative","scale":{"domain":[14351,31183],"nice":false,"zero":false},"axis":{"orient":"right","values":[16000,18000,20000,22000,24000,26000,28000,30000],"format":"d","labelPadding":6,"grid":true}},"y2":{"field":"bbLow"}}},
{"data":{"name":"candles"},"mark":{"type":"bar","orient":"vertical","size":1,"opacity":0.5},
 "encoding":{"x":{"field":"i","type":"quantitative","axis":null},"y":{"field":"vol","type":"quantitative","stack":null,"scale":{"domain":[0,409],"nice":false,"zero":false},"axis":null},
 "color":{"condition":{"test":"datum.close>=datum.open","value":"#008000"},"value":"#ff0000"}}},
{"data":{"name":"candles"},"mark":{"type":"rule","strokeWidth":1},
 "encoding":{"x":{"field":"i","type":"quantitative","axis":null},"y":{"field":"low","type":"quantitative","scale":{"domain":[14351,31183],"nice":false,"zero":false},"axis":null},"y2":{"field":"high"},
 "color":{"condition":{"test":"datum.close>=datum.open","value":"#008000"},"value":"#ff0000"}}},
{"data":{"name":"candles"},"mark":{"type":"bar","orient":"vertical","size":2.2},
 "encoding":{"x":{"field":"i","type":"quantitative","axis":null},"y":{"field":"open","type":"quantitative","scale":{"domain":[14351,31183],"nice":false,"zero":false},"axis":null},"y2":{"field":"close"},
 "color":{"condition":{"test":"datum.close>=datum.open","value":"#008000"},"value":"#ff0000"}}},
{"data":{"name":"lines"},"mark":{"type":"line","interpolate":"monotone","color":"#2196f3","strokeWidth":1.3,"opacity":0.85},"encoding":{"x":{"field":"i","type":"quantitative","axis":null},"y":{"field":"volMa","type":"quantitative","scale":{"domain":[0,409],"nice":false,"zero":false},"axis":null}}},
{"data":{"name":"lines"},"mark":{"type":"line","interpolate":"monotone","color":"#2962ff","strokeWidth":1.3,"opacity":0.8},"encoding":{"x":{"field":"i","type":"quantitative","axis":null},"y":{"field":"slow","type":"quantitative","scale":{"domain":[14351,31183],"nice":false,"zero":false},"axis":null}}},
{"data":{"name":"lines"},"mark":{"type":"line","interpolate":"monotone","color":"#000000","strokeWidth":1.3,"opacity":0.8},"encoding":{"x":{"field":"i","type":"quantitative","axis":null},"y":{"field":"ma","type":"quantitative","scale":{"domain":[14351,31183],"nice":false,"zero":false},"axis":null}}},
{"data":{"name":"lines"},"mark":{"type":"line","interpolate":"monotone","color":"#ff6d00","strokeWidth":1.3,"opacity":0.75},"encoding":{"x":{"field":"i","type":"quantitative","axis":null},"y":{"field":"mid","type":"quantitative","scale":{"domain":[14351,31183],"nice":false,"zero":false},"axis":null}}},
{"data":{"name":"lines"},"mark":{"type":"line","interpolate":"monotone","color":"#2196f3","strokeWidth":1.3,"opacity":0.8},"encoding":{"x":{"field":"i","type":"quantitative","axis":null},"y":{"field":"bbUp","type":"quantitative","scale":{"domain":[14351,31183],"nice":false,"zero":false},"axis":null}}},
{"data":{"name":"lines"},"mark":{"type":"line","interpolate":"monotone","color":"#2196f3","strokeWidth":1.3,"opacity":0.8},"encoding":{"x":{"field":"i","type":"quantitative","axis":null},"y":{"field":"bbLow","type":"quantitative","scale":{"domain":[14351,31183],"nice":false,"zero":false},"axis":null}}},
{"data":{"name":"seps"},"mark":{"type":"rule","color":"#dfe1e6","strokeWidth":1},"encoding":{"x":{"field":"x0","type":"quantitative","axis":null},"x2":{"field":"x1"},"y":{"field":"price","type":"quantitative","scale":{"domain":[14351,31183],"nice":false,"zero":false},"axis":null}}},
{"data":{"name":"volStrip"},"mark":{"type":"rect","color":"#2196f3"},"encoding":{"x":{"field":"x0","type":"quantitative","axis":null},"x2":{"field":"x1"},"y":{"field":"top","type":"quantitative","scale":{"domain":[14351,31183],"nice":false,"zero":false},"axis":null},"y2":{"field":"bottom"}}},
{"data":{"name":"priceTags"},"mark":{"type":"rect"},"encoding":{"x":{"field":"x0","type":"quantitative","axis":null},"x2":{"field":"x1"},"y":{"field":"top","type":"quantitative","scale":{"domain":[14351,31183],"nice":false,"zero":false},"axis":null},"y2":{"field":"bottom"},"fill":{"field":"fill","type":"nominal","scale":null}}},
{"data":{"name":"priceTags"},"mark":{"type":"text","align":"left","baseline":"middle","dx":8,"fontSize":11.4,"color":"#ffffff"},"encoding":{"x":{"field":"x0","type":"quantitative","axis":null},"y":{"field":"mid","type":"quantitative","scale":{"domain":[14351,31183],"nice":false,"zero":false},"axis":null},"text":{"field":"label"}}}
],
"resolve":{"scale":{"y":"independent","color":"independent","fill":"independent"}}},
{"width":570,"height":115,
"layer":[
{"data":{"name":"candles"},"mark":{"type":"bar","orient":"vertical","size":1.2},
 "encoding":{"x":{"field":"i","type":"quantitative","scale":{"domain":[-0.32,229.5],"nice":false,"zero":false},"axis":{"values":[10,54,98,134,177,220],"labels":false,"grid":true}},
 "y":{"field":"hist","type":"quantitative","stack":null,"scale":{"domain":[-1120,2530],"nice":false,"zero":false},"axis":{"orient":"right","values":[-1000,1000,2000],"labelPadding":6,"grid":true,"format":"d","labelExpr":"replace(datum.label,'-','−')"}},
 "color":{"field":"tone","type":"nominal","scale":{"domain":["a","b","c","d"],"range":["#22ab94","#ace5dc","#f7525f","#fccbcd"]},"legend":null}}},
{"data":{"name":"lines"},"mark":{"type":"line","interpolate":"monotone","color":"#2196f3","strokeWidth":1.3},"encoding":{"x":{"field":"i","type":"quantitative"},"y":{"field":"macd","type":"quantitative"}}},
{"data":{"name":"lines"},"mark":{"type":"line","interpolate":"monotone","color":"#ff6d00","strokeWidth":1.3},"encoding":{"x":{"field":"i","type":"quantitative"},"y":{"field":"signal","type":"quantitative"}}},
{"data":{"name":"seps"},"mark":{"type":"rule","color":"#dfe1e6","strokeWidth":1},"encoding":{"x":{"field":"x0","type":"quantitative"},"x2":{"field":"x1"},"y":{"field":"macdLow","type":"quantitative"}}},
{"data":{"name":"macdTags"},"mark":{"type":"rect"},"encoding":{"x":{"field":"x0","type":"quantitative"},"x2":{"field":"x1"},"y":{"field":"top","type":"quantitative"},"y2":{"field":"bottom"},"fill":{"field":"fill","type":"nominal","scale":null}}},
{"data":{"name":"macdTags"},"mark":{"type":"text","align":"left","baseline":"middle","dx":8,"fontSize":11.4,"color":"#ffffff"},"encoding":{"x":{"field":"x0","type":"quantitative"},"y":{"field":"mid","type":"quantitative"},"text":{"field":"label"}}}
]},
{"width":570,"height":101,
"layer":[
{"data":{"name":"band"},"mark":{"type":"rect","color":"#2196f3","opacity":0.1},
 "encoding":{"y":{"field":"lo","type":"quantitative","scale":{"domain":[-7.1,107.2],"nice":false,"zero":false},"axis":{"orient":"right","values":[0,40,80],"format":".2f","labelPadding":6,"grid":true}},"y2":{"field":"hi"}}},
{"data":{"name":"band"},"mark":{"type":"rule","color":"#787b86","strokeWidth":1,"strokeDash":[4,4]},"encoding":{"y":{"field":"lo","type":"quantitative"}}},
{"data":{"name":"band"},"mark":{"type":"rule","color":"#787b86","strokeWidth":1,"strokeDash":[4,4]},"encoding":{"y":{"field":"hi","type":"quantitative"}}},
{"data":{"name":"stochK"},"mark":{"type":"line","interpolate":"monotone","color":"#2196f3","strokeWidth":1.3},
 "encoding":{"x":{"field":"i","type":"quantitative","scale":{"domain":[-0.32,229.5],"nice":false,"zero":false},"axis":{"values":[10,54,98,134,177,220],"labelExpr":"datum.value==10?'Tháng 9':datum.value==54?'Tháng 11':datum.value==98?'2026':datum.value==134?'Tháng 3':datum.value==177?'Tháng 5':'Tháng 7'","labelFontWeight":{"condition":{"test":"datum.value==98","value":"bold"},"value":"normal"},"labelPadding":5,"labelOverlap":false,"labelFlush":false,"grid":true}},
 "y":{"field":"v","type":"quantitative"}}},
{"data":{"name":"stochD"},"mark":{"type":"line","interpolate":"monotone","color":"#ff6d00","strokeWidth":1.3},"encoding":{"x":{"field":"i","type":"quantitative"},"y":{"field":"v","type":"quantitative"}}},
{"data":{"name":"stochTags"},"mark":{"type":"rect"},"encoding":{"x":{"field":"x0","type":"quantitative"},"x2":{"field":"x1"},"y":{"field":"top","type":"quantitative"},"y2":{"field":"bottom"},"fill":{"field":"fill","type":"nominal","scale":null}}},
{"data":{"name":"stochTags"},"mark":{"type":"text","align":"left","baseline":"middle","dx":8,"fontSize":11.4,"color":"#ffffff"},"encoding":{"x":{"field":"x0","type":"quantitative"},"y":{"field":"mid","type":"quantitative"},"text":{"field":"label"}}},
{"data":{"name":"icon"},"mark":{"type":"point","shape":"M0,-1L0.87,-0.5L0.87,0.5L0,1L-0.87,0.5L-0.87,-0.5Z","size":330,"filled":false,"color":"#444","strokeWidth":1.2},"encoding":{"x":{"field":"i","type":"quantitative"},"y":{"field":"v","type":"quantitative"}}},
{"data":{"name":"icon"},"mark":{"type":"point","shape":"circle","size":16,"filled":false,"color":"#444","strokeWidth":1.2},"encoding":{"x":{"field":"i","type":"quantitative"},"y":{"field":"v","type":"quantitative"}}}
]}
]}
